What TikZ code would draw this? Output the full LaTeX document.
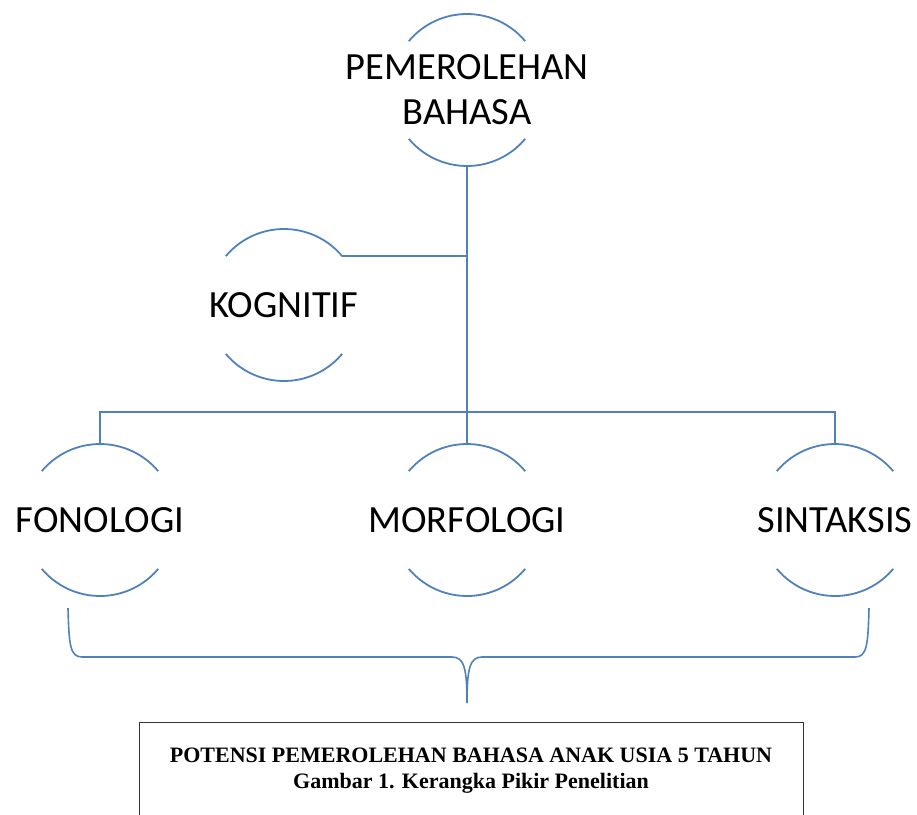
\documentclass[tikz,border=0pt]{standalone}
\usepackage{fontspec}
\setmainfont{Liberation Serif}
\newfontfamily\calib{Carlito}
\usetikzlibrary{positioning}
\definecolor{lineblue}{RGB}{79,129,189}

\begin{document}
\begin{tikzpicture}[x=1pt,y=1pt,
    ring/.style = {circle, minimum size=152pt, inner sep=0pt, outer sep=0pt},
    lbl/.style = {font=\calib\fontsize{38.5}{45}\selectfont, align=center, inner sep=0pt},
    link/.style = {draw=lineblue, line width=1.8pt},
    resbox/.style = {draw=black!80, line width=0.8pt, minimum width=664pt, minimum height=140pt, anchor=north},
    caption/.style = {font=\bfseries\fontsize{22}{25.5}\selectfont, align=center, inner sep=0pt}]
    \useasboundingbox (0,0) rectangle (917,-814);
    \clip (0,0) rectangle (917,-814);
    % circles
    \node [ring] (top) at (467,-90) {};
    \node [ring] (kog) at (284,-305) {};
    \node [ring] (fon) at (100,-520) {};
    \node [ring] (mor) at (467,-520) {};
    \node [ring] (sin) at (835,-520) {};
    \foreach \n in {top,kog,fon,mor,sin} {
        \draw [link] (\n.40) arc[start angle=40, end angle=140, radius=76pt];
        \draw [link] (\n.220) arc[start angle=220, end angle=320, radius=76pt];
    }
    % labels
    \node [lbl] at (top) {PEMEROLEHAN\\BAHASA};
    \node [lbl] at (kog) {KOGNITIF};
    \node [lbl] at (fon) {FONOLOGI};
    \node [lbl] at (mor) {MORFOLOGI};
    \node [lbl] at (sin) {SINTAKSIS};
    % tree lines
    \coordinate (bar) at (467,-412);
    \draw [link] (top.south) -- (bar);
    \draw [link] (kog.40) -- (kog.40 -| top.south);
    \draw [link] (fon.north) |- (bar) -| (sin.north);
    \draw [link] (mor.north) -- (bar);
    % brace
    \coordinate (tip) at (467,-703);
    \draw [link, line width=1.6pt] (68,-608) .. controls (69,-645) and (70,-657) .. (82,-657)
        -- (452,-657) .. controls (464,-657) and (467,-668) .. (tip)
        .. controls (467,-668) and (470,-657) .. (482,-657)
        -- (855,-657) .. controls (867,-657) and (868,-645) .. (869,-608);
    % result box
    \node [resbox] (res) at (471,-722) {};
    \node [caption, below=26pt of res.north] (cap) {POTENSI PEMEROLEHAN BAHASA ANAK USIA 5 TAHUN\\Gambar 1. Kerangka Pikir Penelitian};
\end{tikzpicture}
\end{document}
